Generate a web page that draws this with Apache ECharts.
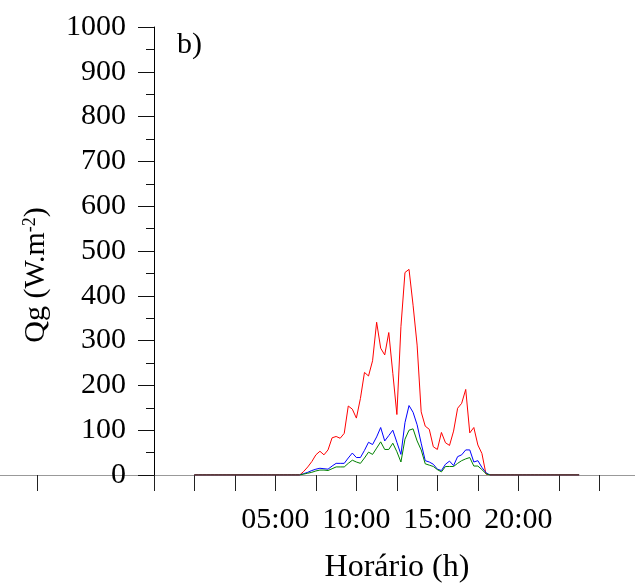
<!DOCTYPE html>
<html>
<head>
<meta charset="utf-8">
<script src="https://cdn.jsdelivr.net/npm/echarts@6/dist/echarts.min.js"></script>
<style>
  html, body { margin: 0; padding: 0; background: #fff; }
  #chart { width: 635px; height: 585px; }
</style>
</head>
<body>
<div id="chart"></div>
<script>
  // one sample every 15 min, 00:00 .. 23:45
  const stepHours = 0.25;

  const qgRed = [
    0, 0, 0, 0, 0, 0, 0, 0,
    0, 0, 0, 0, 0, 0, 0, 0,
    0, 0, 0, 0, 0, 0, 0, 0,
    0, 0, 0, 8, 18, 30, 45, 53,
    45, 56, 83, 86, 82, 93, 154, 147,
    127, 171, 229, 221, 255, 341, 283, 268,
    318, 227, 135, 331, 452, 459, 379, 290,
    141, 109, 102, 63, 57, 95, 72, 66,
    98, 149, 160, 191, 94, 106, 67, 48,
    2, 0, 0, 0, 0, 0, 0, 0,
    0, 0, 0, 0, 0, 0, 0, 0,
    0, 0, 0, 0, 0, 0, 0, 0
  ];

  const qgBlue = [
    0, 0, 0, 0, 0, 0, 0, 0,
    0, 0, 0, 0, 0, 0, 0, 0,
    0, 0, 0, 0, 0, 0, 0, 0,
    0, 0, 0, 3, 6, 10, 13, 15,
    14, 13, 20, 26, 26, 26, 38, 49,
    39, 39, 55, 73, 68, 85, 106, 76,
    88, 100, 73, 46, 117, 155, 140, 112,
    71, 32, 29, 24, 13, 10, 24, 31,
    21, 41, 45, 56, 56, 29, 32, 17,
    5, 0, 0, 0, 0, 0, 0, 0,
    0, 0, 0, 0, 0, 0, 0, 0,
    0, 0, 0, 0, 0, 0, 0, 0
  ];

  const qgGreen = [
    0, 0, 0, 0, 0, 0, 0, 0,
    0, 0, 0, 0, 0, 0, 0, 0,
    0, 0, 0, 0, 0, 0, 0, 0,
    0, 0, 0, 2, 4, 6, 9, 11,
    11, 10, 14, 18, 18, 18, 26, 33,
    29, 26, 38, 51, 46, 60, 74, 57,
    57, 71, 52, 29, 80, 100, 103, 76,
    56, 25, 22, 19, 12, 7, 19, 19,
    19, 26, 32, 36, 39, 20, 20, 12,
    3, 0, 0, 0, 0, 0, 0, 0,
    0, 0, 0, 0, 0, 0, 0, 0,
    0, 0, 0, 0, 0, 0, 0, 0
  ];

  // dark line lying on zero during the night
  const qgNight = [
    0, 0, 0, 0, 0, 0, 0, 0,
    0, 0, 0, 0, 0, 0, 0, 0,
    0, 0, 0, 0, 0, 0, 0, 0,
    0, 0, 0, null, null, null, null, null,
    null, null, null, null, null, null, null, null,
    null, null, null, null, null, null, null, null,
    null, null, null, null, null, null, null, null,
    null, null, null, null, null, null, null, null,
    null, null, null, null, null, null, null, null,
    null, 0, 0, 0, 0, 0, 0, 0,
    0, 0, 0, 0, 0, 0, 0, 0,
    0, 0, 0, 0, 0, 0, 0, 0
  ];

  const xTicks = [-9.7, -2.5, 0, 2.5, 5, 7.5, 10, 12.5, 15, 17.5, 20, 22.5, 25];
  const xLabels = [5, 10, 15, 20];

  const font = "'Liberation Serif', 'Times New Roman', serif";

  function toPairs(arr) {
    return arr.map((v, i) => [i * stepHours, v]);
  }

  function lineSeries(name, arr, color) {
    return {
      name: name,
      type: 'line',
      data: toPairs(arr),
      showSymbol: false,
      connectNulls: false,
      lineStyle: { width: 1, color: color },
      itemStyle: { color: color },
      animation: false
    };
  }

  const chart = echarts.init(document.getElementById('chart'));
  chart.setOption({
    backgroundColor: '#fff',
    animation: false,
    grid: { left: 0, right: 0, top: 27, bottom: 110, containLabel: false },
    xAxis: {
      type: 'value',
      min: -12,
      max: 27.2,
      splitLine: { show: false },
      axisLine: { onZero: false, lineStyle: { color: '#999', width: 1 } },
      axisTick: {
        show: true,
        customValues: xTicks,
        length: 16,
        lineStyle: { color: '#222', width: 1 }
      },
      axisLabel: {
        customValues: xLabels,
        margin: 30,
        color: '#000',
        fontFamily: font,
        fontSize: 30,
        formatter: function (v) {
          return (v < 10 ? '0' : '') + v + ':00';
        }
      }
    },
    yAxis: {
      type: 'value',
      min: 0,
      max: 1000,
      interval: 100,
      offset: -154,
      splitLine: { show: false },
      axisLine: { show: true, onZero: false, lineStyle: { color: '#000', width: 1 } },
      axisTick: { show: true, length: 16, lineStyle: { color: '#111', width: 1 } },
      minorTick: { show: true, splitNumber: 2, length: 8, lineStyle: { color: '#111', width: 1 } },
      axisLabel: {
        margin: 28,
        color: '#000',
        fontFamily: font,
        fontSize: 30,
        formatter: function (v) { return String(v); }
      }
    },
    graphic: [
      {
        type: 'text',
        x: 177,
        y: 45,
        style: {
          text: 'b)',
          fill: '#000',
          font: '30px ' + font,
          textAlign: 'left',
          textVerticalAlign: 'middle'
        }
      },
      {
        type: 'text',
        x: 397,
        y: 568,
        style: {
          text: 'Horário (h)',
          fill: '#000',
          font: '32px ' + font,
          textAlign: 'center',
          textVerticalAlign: 'middle'
        }
      },
      {
        type: 'text',
        x: 36,
        y: 275,
        rotation: Math.PI / 2,
        style: {
          text: '{a|Qg (W.m}{s|-2}{a|)}',
          fill: '#000',
          textAlign: 'center',
          textVerticalAlign: 'middle',
          rich: {
            a: { fontFamily: font, fontSize: 30, fill: '#000', verticalAlign: 'bottom' },
            s: { fontFamily: font, fontSize: 18, fill: '#000', verticalAlign: 'top' }
          }
        }
      }
    ],
    series: [
      lineSeries('red', qgRed, '#ff0000'),
      lineSeries('blue', qgBlue, '#0000ff'),
      lineSeries('green', qgGreen, '#008000'),
      lineSeries('night', qgNight, '#7b1616')
    ]
  });
</script>
</body>
</html>
